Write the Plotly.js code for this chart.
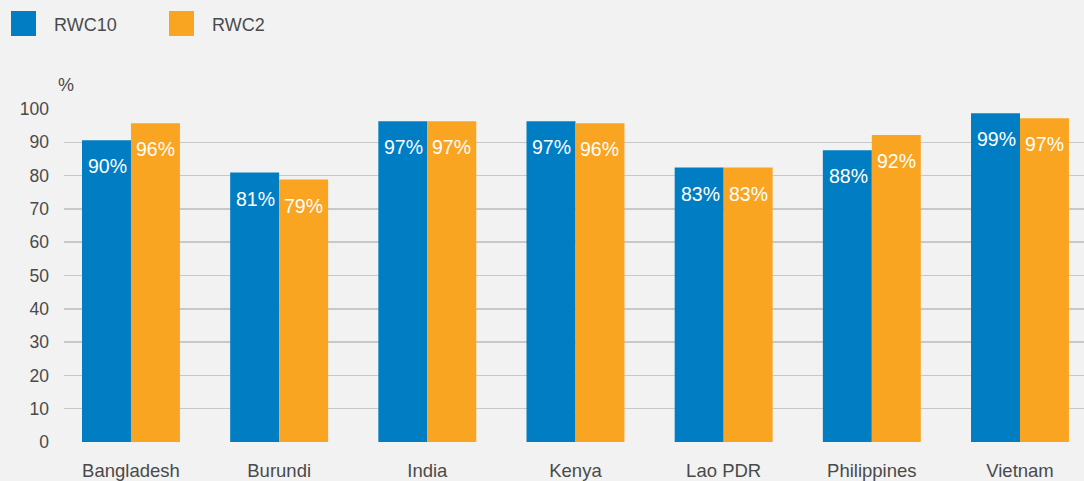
<!DOCTYPE html>
<html>
<head>
<meta charset="utf-8">
<script src="https://cdn.plot.ly/plotly-3.0.1.min.js"></script>
<style>
  html, body { margin: 0; padding: 0; background: #f2f2f2; }
  #chart { width: 1084px; height: 481px; }
</style>
</head>
<body>
<div id="chart"></div>
<script>
// ---- data ----
const countries = ["Bangladesh", "Burundi", "India", "Kenya", "Lao PDR", "Philippines", "Vietnam"];
const rwc10 = [90.6, 80.9, 96.3, 96.3, 82.4, 87.6, 98.7];
const rwc2  = [95.7, 78.8, 96.3, 95.7, 82.4, 92.2, 97.2];
const rwc10Labels = ["90%", "81%", "97%", "97%", "83%", "88%", "99%"];
const rwc2Labels  = ["96%", "79%", "97%", "96%", "83%", "92%", "97%"];
const seriesNames = ["RWC10", "RWC2"];
const yTicks = [0, 10, 20, 30, 40, 50, 60, 70, 80, 90, 100];

// ---- styling ----
const BLUE = "#007dc3";
const ORANGE = "#f9a521";
const TEXT = "#4a4a4a";
const FONT = "Liberation Sans, Arial, Helvetica, sans-serif";

const W = 1084, H = 481;
const M = {l: 64, r: 0, t: 109, b: 39};
const plotW = W - M.l - M.r, plotH = H - M.t - M.b;
const px2x = p => (p - M.l) / plotW;
const py2y = p => (H - M.b - p) / plotH;

const traces = [
  {type: "bar", name: seriesNames[0], x: countries, y: rwc10,
   marker: {color: BLUE, line: {width: 0}}, hoverinfo: "skip"},
  {type: "bar", name: seriesNames[1], x: countries, y: rwc2,
   marker: {color: ORANGE, line: {width: 0}}, hoverinfo: "skip"}
];

const annotations = [];
const barOffset = 24.5; // px offset from category centre to each bar centre
countries.forEach((c, i) => {
  annotations.push({x: c, y: rwc10[i], xref: "x", yref: "y", text: rwc10Labels[i],
    showarrow: false, xanchor: "center", yanchor: "top", xshift: -barOffset + 1, yshift: -13,
    font: {family: FONT, size: 19.5, color: "#ffffff"}});
  annotations.push({x: c, y: rwc2[i], xref: "x", yref: "y", text: rwc2Labels[i],
    showarrow: false, xanchor: "center", yanchor: "top", xshift: barOffset, yshift: -13,
    font: {family: FONT, size: 19.5, color: "#ffffff"}});
});
// "%" unit label
annotations.push({x: px2x(56), y: py2y(85), xref: "paper", yref: "paper", text: "%",
  showarrow: false, xanchor: "left", yanchor: "middle",
  font: {family: FONT, size: 18, color: TEXT}});
// legend texts
annotations.push({x: px2x(52), y: py2y(25), xref: "paper", yref: "paper", text: seriesNames[0],
  showarrow: false, xanchor: "left", yanchor: "middle",
  font: {family: FONT, size: 18, color: TEXT}});
annotations.push({x: px2x(210), y: py2y(25), xref: "paper", yref: "paper", text: seriesNames[1],
  showarrow: false, xanchor: "left", yanchor: "middle",
  font: {family: FONT, size: 18, color: TEXT}});

const shapes = [
  {type: "rect", xref: "paper", yref: "paper", x0: px2x(11), x1: px2x(36), y0: py2y(36), y1: py2y(11),
   fillcolor: BLUE, line: {width: 0}},
  {type: "rect", xref: "paper", yref: "paper", x0: px2x(169), x1: px2x(194), y0: py2y(36), y1: py2y(11),
   fillcolor: ORANGE, line: {width: 0}}
];

const layout = {
  width: W, height: H,
  margin: M,
  paper_bgcolor: "#f2f2f2",
  plot_bgcolor: "#f2f2f2",
  showlegend: false,
  barmode: "group",
  bargap: 0.339,
  bargroupgap: 0,
  font: {family: FONT, color: TEXT},
  xaxis: {
    type: "category",
    range: [-0.452, 6.432],
    showgrid: false, zeroline: false, showline: false,
    ticks: "", ticklabelstandoff: 15,
    tickfont: {family: FONT, size: 18.5, color: TEXT},
    fixedrange: true
  },
  yaxis: {
    range: [0, 100],
    tickvals: yTicks,
    showgrid: true, gridcolor: "#c8c8c8", gridwidth: 1.5,
    zeroline: false, showline: false,
    ticks: "", ticklabelstandoff: 14,
    tickfont: {family: FONT, size: 17.5, color: TEXT},
    fixedrange: true
  },
  annotations: annotations,
  shapes: shapes
};

Plotly.newPlot("chart", traces, layout, {displayModeBar: false, staticPlot: true});
</script>
</body>
</html>
